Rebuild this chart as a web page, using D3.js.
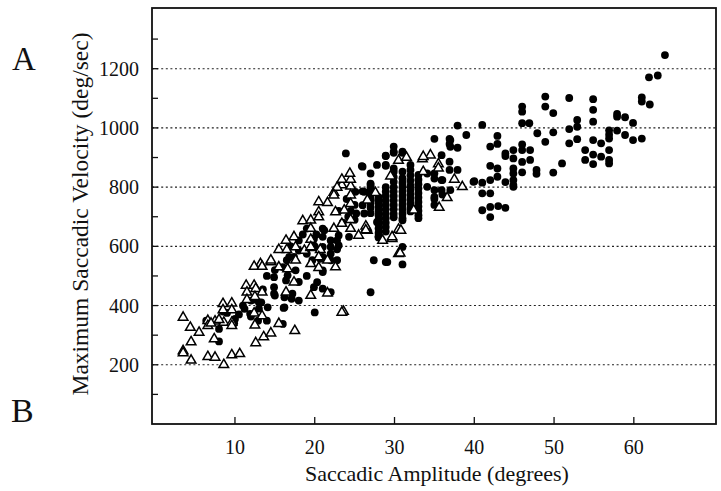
<!DOCTYPE html>
<html>
<head>
<meta charset="utf-8">
<script src="https://d3js.org/d3.v7.min.js"></script>
<style>
  body { margin: 0; background: #fff; }
  svg { display: block; }
  text { font-family: "Liberation Serif", "Times New Roman", serif; fill: #111; }
</style>
</head>
<body>
<div id="chart"></div>
<script>
// values: [amplitude (deg), peak velocity (deg/sec)]
const triangles = [
  [3.5,360],[4.4,326],[5.5,309],[4.5,277],[3.5,247],[3.5,240],[4.5,215],[6.6,227],[7.5,225],[8.6,200],[9.6,233],[10.6,237],
  [8.5,406],[9.6,408],[8.5,385],[9.6,385],[6.6,349],[7.5,347],[6.6,332],[8.6,343],[9.6,343],[9.6,332],[7.4,287],[7.0,340],[8.0,352],
  [12.6,274],[13.6,294],[14.5,307],[15.5,339],[12.5,334],[17.5,315],[23.6,380],
  [11.4,468],[12.4,468],[11.5,445],[12.6,457],[13.4,445],[12.4,374],[13.4,365],[11.5,420],[12.5,430],[13.2,541],[14.5,547],
  [16.4,445],[17.4,479],[19.5,434],[21.6,442],[23.4,377],
  [12.4,532],[13.4,532],[14.5,553],[15.5,530],[16.6,524],[17.6,553],[19.5,541],[20.5,528],[21.6,553],[22.6,530],
  [15.5,589],[16.5,589],[17.6,598],[18.7,586],[19.5,595],[16.4,620],[17.4,632],[19.5,623],[19.5,598],
  [18.5,686],[19.5,688],[19.5,660],[20.5,716],[20.5,699],[22.6,716],[23.7,722],[22.4,660],[23.4,677],[24.5,690],[24.5,660],[26.6,654],
  [20.5,750],[21.6,747],[22.4,782],[23.4,807],[24.5,803],[23.4,826],[24.5,826],[24.4,846],[24.5,773],[24.5,744],[22.8,799],[22.4,773],
  [25.5,637],[26.5,662],[28.5,620],[29.7,626],[30.5,575],[30.5,657],[30.7,577],[29.7,632],[26.4,668],[26.4,655],
  [26.6,756],[27.6,781],[29.5,837],[30.8,654],[30.5,890],[31.5,900],
  [33.5,895],[34.5,908],[35.5,878],[35.5,864],[33.6,852],[37.5,826],[38.5,801],[36.6,764],[35.6,731],[32.4,722],[33.6,903],
  [20.7,589],[20.5,564]
];

const dots = [
  [8,279],[8,321],[9.9,340],[6.4,349],[8.5,380],[11.2,389],[11.9,372],[13,411],[13,390],[12,363],[12.9,349],[14,349],
  [14.1,394],[15,434],[16,338],[16.1,392],[17.1,423],[18,417],[20,377],[19.9,462],[21,457],[22,445],[21,513],[14.9,496],
  [16.6,502],[16.4,485],[14.9,462],[14.9,440],[16.2,428],[17.2,440],[13.3,411],[16.2,394],[20.3,479],[12,417],[10.5,370],[9,375],
  [10,355],[11,400],[12.5,420],[13.5,455],
  [18,586],[17.4,564],[16.5,553],[17.6,519],[19.7,553],[21,519],[20.7,558],[16.8,564],[17,600],[18,620],[18.5,640],[19,575],
  [16,530],[15,520],[14,500],[19,500],[18,480],[20,600],[20.2,640],[19,660],
  [21,660],[21,632],[22,620],[22,598],[22,575],[22,553],[21,598],[21,564],[22.8,620],[22.8,590],[22.8,553],[23,637],[23,603],
  [24.3,632],[19.9,626],[21.2,654],[23.5,680],[24.2,700],[25,690],[24,760],[25,740],[23,720],[24.5,720],
  [25.9,871],[27,846],[27,800],[26.2,784],[25.1,784],[27,756],[25.2,711],[26.2,711],[28,756],[27,812],[27,778],[23.9,914],
  [28.9,905],[29.9,916],[31,916],[27.8,875],[28.9,875],[29.9,863],[32,875],[29.9,937],[29.9,920],[31,920],[28.9,906],
  [26,869],[28.9,872],[29.9,852],[31,852],[26,786],[26,739],[27.8,682],[28,634],
  [31,598],[29.1,547],[31,539],[27,445],[27.4,553],[28.9,547],
  [32,858],[32,840],[32,822],[32,805],[32,790],[32,775],[32,760],[32,745],[32,730],[32,718],
  [33,841],[33,825],[33,810],[33,795],[33,780],[33,765],[33,750],[33,735],[33,720],[33,705],[33,695],
  [31,830],[31,815],[31,800],[31,785],[31,770],[31,755],[31,740],[31,725],[31,710],[31,695],[31,688],
  [29.9,834],[29.9,818],[29.9,800],[29.9,785],[29.9,770],[29.9,755],[29.9,740],[29.9,725],[29.9,710],[29.9,698],
  [28.9,800],[28.9,785],[28.9,770],[28.9,755],[28.9,740],[28.9,725],[28.9,710],[28.9,695],[28.9,680],[28.9,665],[28.9,650],
  [28,766],[28,750],[28,735],[28,720],[28,705],[28,690],[28,675],[28,660],[28,645],[28,630],
  [27,807],[27,790],[27,775],[27,760],[27,745],[27,730],[27,712],
  [34.1,846],[34.1,801],[35,790],[35,767],[37,790],[35,760],[35.9,790],[35,740],[36,775],[35,829],[35,846],[36,824],
  [35,963],[36.9,963],[36.9,946],[37.9,933],[37.9,1008],[39,976],[35.9,908],[36.9,886],[36.9,858],[37.9,858],
  [37,959],[37,936],[35.9,824],[40,820],[41,815],[42,824],[42,872],[42,937],[41,1010],
  [42.9,973],[42.9,946],[42.9,863],[42.9,835],[43.9,914],[43.9,905],[43.9,817],
  [44.9,925],[44.9,897],[44.9,863],[44.9,824],[44.9,807],[44.9,846],[44.9,801],
  [41,722],[42,733],[42,699],[43,736],[43.9,730],[41,779],[42,779],[39.9,818],
  [46,1072],[46,1055],[46,1016],[46.9,1016],[46,944],[46,925],[46,885],[46,850],[47,925],[47,892],
  [47.9,982],[47.8,858],[47.8,845],[48.9,1072],[48.9,1106],[48.9,953],[49.9,1050],[49.9,985],[49.9,849],[51,880],
  [51.9,1101],[51.9,996],[51.9,948],[52.9,1027],[52.9,1004],[52.9,962],[53.9,925],[53.9,892],
  [54.9,1097],[54.9,1061],[54.9,1021],[54.9,959],[54.9,910],[54.9,878],[55.9,948],[55.9,903],
  [56.9,992],[56.9,977],[56.9,964],[56.9,925],[56.9,892],[56.9,880],[57.9,1047],[57.9,1038],[57.9,991],
  [58.9,1036],[58.9,976],[59.9,1017],[59.9,959],[61,964],[61,1103],[61,1089],[62,1079],
  [61.9,1171],[63,1177],[63.9,1246]
];

const xTicks = [10, 20, 30, 40, 50, 60];
const yTicks = [200, 400, 600, 800, 1000, 1200];
const yMinorTicks = [100, 300, 500, 700, 900, 1100, 1300];

const width = 721, height = 491;

const svg = d3.select("#chart").append("svg")
  .attr("width", width)
  .attr("height", height);

const x = d3.scaleLinear().domain([-0.4, 70.3]).range([152, 716]);
const y = d3.scaleLinear().domain([0, 1405]).range([424, 8]);

const [x0, x1] = x.range();
const [yb, yt] = y.range();

// dotted grid
svg.append("g")
  .selectAll("line")
  .data(yTicks)
  .join("line")
  .attr("x1", x0).attr("x2", x1)
  .attr("y1", d => y(d)).attr("y2", d => y(d))
  .attr("stroke", "#222")
  .attr("stroke-width", 1.1)
  .attr("stroke-dasharray", "2,2.6");

// ticks pointing into the plot
svg.append("g")
  .selectAll("line")
  .data(yTicks.concat(yMinorTicks))
  .join("line")
  .attr("x1", x0).attr("x2", x0 + 6)
  .attr("y1", d => y(d)).attr("y2", d => y(d))
  .attr("stroke", "#111").attr("stroke-width", 1.3);

svg.append("g")
  .selectAll("line")
  .data(xTicks)
  .join("line")
  .attr("x1", d => x(d)).attr("x2", d => x(d))
  .attr("y1", yb).attr("y2", yb - 7)
  .attr("stroke", "#111").attr("stroke-width", 1.3);

// tick labels
svg.append("g")
  .selectAll("text")
  .data(yTicks)
  .join("text")
  .attr("x", x0 - 13)
  .attr("y", d => y(d))
  .attr("dy", "0.35em")
  .attr("text-anchor", "end")
  .attr("font-size", 20)
  .text(d => d);

svg.append("g")
  .selectAll("text")
  .data(xTicks)
  .join("text")
  .attr("x", d => x(d))
  .attr("y", 454)
  .attr("text-anchor", "middle")
  .attr("font-size", 20)
  .text(d => d);

// axis titles
svg.append("text")
  .attr("x", 437)
  .attr("y", 481)
  .attr("text-anchor", "middle")
  .attr("font-size", 22)
  .text("Saccadic Amplitude (degrees)");

svg.append("text")
  .attr("transform", "translate(88,214) rotate(-90)")
  .attr("text-anchor", "middle")
  .attr("font-size", 23.5)
  .text("Maximum Saccadic Velocity (deg/sec)");

// panel letters
svg.append("text").attr("x", 12).attr("y", 70).attr("font-size", 33).text("A");
svg.append("text").attr("x", 11).attr("y", 422).attr("font-size", 34).text("B");

// data
svg.append("g")
  .selectAll("circle")
  .data(dots)
  .join("circle")
  .attr("cx", d => x(d[0]))
  .attr("cy", d => y(d[1]))
  .attr("r", 3.9)
  .attr("fill", "#000");

const tri = d3.symbol().type(d3.symbolTriangle).size(40);
svg.append("g")
  .selectAll("path")
  .data(triangles)
  .join("path")
  .attr("transform", d => `translate(${x(d[0])},${y(d[1])})`)
  .attr("d", tri)
  .attr("fill", "#fff")
  .attr("stroke", "#000")
  .attr("stroke-width", 1.5);

// frame
svg.append("rect")
  .attr("x", x0).attr("y", yt)
  .attr("width", x1 - x0).attr("height", yb - yt)
  .attr("fill", "none")
  .attr("stroke", "#111")
  .attr("stroke-width", 1.8);
</script>
</body>
</html>
